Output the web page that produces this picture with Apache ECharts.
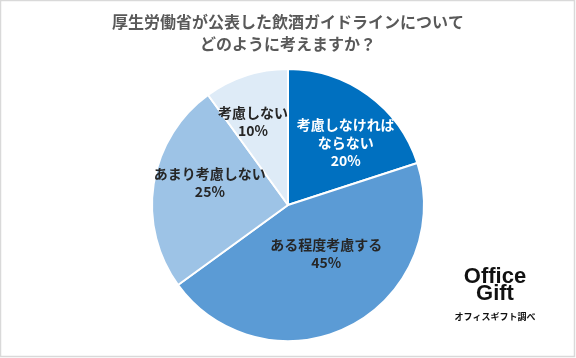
<!DOCTYPE html>
<html><head><meta charset="utf-8">
<script src="https://cdn.jsdelivr.net/npm/echarts@6/dist/echarts.min.js"></script>
<style>html,body{margin:0;padding:0;background:#fff}#c{width:576px;height:358px}</style>
</head><body><div id="c"></div>
<script>
const titleLines = ['厚生労働省が公表した飲酒ガイドラインについて', 'どのように考えますか？'];
const categories = ['考慮しなければ\nならない', 'ある程度考慮する', 'あまり考慮しない', '考慮しない'];
const values = [20, 45, 25, 10];
const colors = ['#0070C0', '#5B9BD5', '#9DC3E6', '#DEEBF7'];
const labelColors = ['#ffffff', '#262626', '#262626', '#262626'];
const labelOffsets = [[16, -5], [6, -15], [-8, -11], [-13, -16]];
const sourceNote = 'オフィスギフト調べ';

const chart = echarts.init(document.getElementById('c'), null, {renderer: 'canvas'});
const font = '"Noto Sans CJK JP", "Noto Sans", sans-serif';
chart.setOption({
  animation: false,
  backgroundColor: '#ffffff',
  title: {
    text: titleLines.join('\n'),
    left: 'center',
    top: 6,
    textStyle: {fontFamily: font, fontSize: 16, fontWeight: 'bold', color: '#595959', lineHeight: 22}
  },
  graphic: [
    {type: 'rect', shape: {x: 0.5, y: 0.5, width: 574, height: 356}, style: {fill: 'none', stroke: '#d9d9d9', lineWidth: 1.5}, z: 100},
    {type: 'text', style: {text: 'Office', x: 495, y: 277, textAlign: 'center', textVerticalAlign: 'middle', font: 'bold 22px "Liberation Sans", Arial, sans-serif', fill: '#111'}},
    {type: 'text', style: {text: 'Gift', x: 495, y: 294, textAlign: 'center', textVerticalAlign: 'middle', font: 'bold 22px "Liberation Sans", Arial, sans-serif', fill: '#111'}},
    {type: 'text', style: {text: sourceNote, x: 495, y: 317, textAlign: 'center', textVerticalAlign: 'middle', font: 'bold 9px "Noto Sans CJK JP", sans-serif', fill: '#111'}}
  ],
  series: [{
    type: 'pie',
    center: [288, 205],
    radius: [0, 136],
    startAngle: 90,
    clockwise: true,
    itemStyle: {borderColor: '#ffffff', borderWidth: 2},
    label: {
      show: true,
      position: 'inside',
      fontFamily: font,
      fontSize: 14,
      fontWeight: 'bold',
      lineHeight: 18,
      formatter: p => p.name + '\n' + p.value + '%'
    },
    labelLine: {show: false},
    emphasis: {disabled: true},
    data: categories.map((c, i) => ({
      name: c,
      value: values[i],
      itemStyle: {color: colors[i]},
      label: {color: labelColors[i], offset: labelOffsets[i]}
    }))
  }]
});
</script></body></html>
